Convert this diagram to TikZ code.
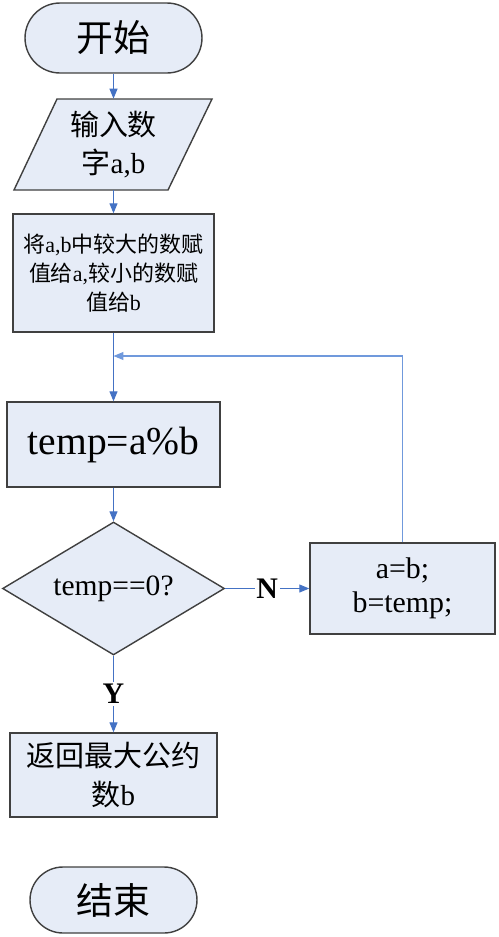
\documentclass[tikz,border=0pt]{standalone}
\usepackage{fontspec}
\setmainfont{Liberation Serif}
\newfontfamily\cjk{Noto Sans CJK SC}
\newcommand{\zhtext}[1]{{\cjk #1}}
\usetikzlibrary{shapes.geometric,arrows.meta}
\definecolor{boxfill}{HTML}{E6ECF7}
\definecolor{boxline}{HTML}{404040}
\definecolor{flowblue}{HTML}{4472C4}
\definecolor{loopblue}{HTML}{7099DC}
\tikzset{
  box/.style={draw=boxline,fill=boxfill,line width=.8pt,inner sep=0pt,align=center},
  term/.style={box,rounded corners=#1},
  flow/.style={draw=flowblue,line width=.6pt,-{Triangle[length=2mm,width=1.6mm]}},
  loopline/.style={flow,draw=loopblue}
}
\begin{document}
\begin{tikzpicture}[x=.02cm,y=-.02cm]
    % 求最大公约数的流程图（坐标按像素）
    \useasboundingbox (0,0) rectangle (498,937);

    \node[term=.7cm,minimum width=3.54cm,minimum height=1.4cm,font=\fontsize{21}{24}\selectfont] (start) at (113.5,38) {\zhtext{开始}};

    \filldraw[draw=boxline,fill=boxfill,line width=.8pt] (57,99) -- (212,99) -- (168,190) -- (14,190) -- cycle;
    \node[inner sep=0pt,minimum height=1.82cm,align=center,font=\fontsize{16.5}{21.5}\selectfont] (input) at (113.5,144.5) {\zhtext{输入数}\\\zhtext{字}a,b};

    \node[box,minimum width=4.02cm,minimum height=2.36cm,font=\fontsize{12.5}{16.5}\selectfont] (swap) at (113.5,273)
        {\zhtext{将}a,b\zhtext{中较大的数赋}\\\zhtext{值给}a,\zhtext{较小的数赋}\\\zhtext{值给}b};

    \node[box,minimum width=4.26cm,minimum height=1.7cm,font=\fontsize{22.5}{26}\selectfont] (mod) at (113.5,444.5) {temp=a\%b};

    \node[box,shape=diamond,aspect=1.67,minimum width=4.44cm,minimum height=2.66cm,font=\fontsize{16.8}{20}\selectfont] (test) at (113.5,588.5) {temp==0?};

    \node[box,minimum width=3.7cm,minimum height=1.82cm,font=\fontsize{17}{19.5}\selectfont] (update) at (402.5,588.5) {a=b;\\b=temp;};

    \node[box,minimum width=4.14cm,minimum height=1.68cm,font=\fontsize{16.5}{22}\selectfont] (result) at (113.5,775) {\zhtext{返回最大公约}\\\zhtext{数}b};

    \node[term=.66cm,minimum width=3.34cm,minimum height=1.32cm,font=\fontsize{21}{24}\selectfont] (stop) at (113.5,900) {\zhtext{结束}};

    \coordinate (back) at (113.5,356);

    \draw[flow] (start) -- (input);
    \draw[flow] (input) -- (swap);
    \draw[flow] (swap) -- (mod);
    \draw[flow] (mod) -- (test);
    \draw[flow] (test) -- node[fill=white,inner sep=1pt,font=\fontsize{17}{20}\selectfont\bfseries] (no) {N} (update);
    \draw[flow] (test) -- node[fill=white,inner sep=1pt,font=\fontsize{17}{20}\selectfont\bfseries] (yes) {Y} (result);
    \draw[loopline] (update) |- (back);
\end{tikzpicture}
\end{document}
